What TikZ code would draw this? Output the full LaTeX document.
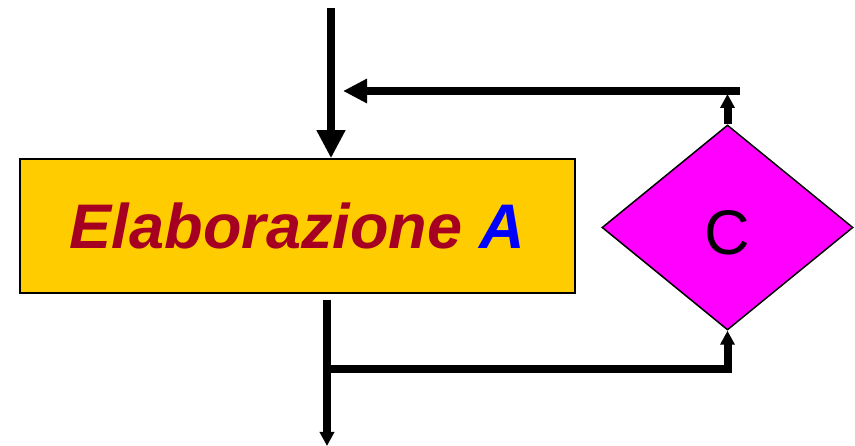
\documentclass[tikz,border=0pt]{standalone}
\usepackage{fontspec}
\setmainfont{Liberation Sans}
\usetikzlibrary{arrows.meta,shapes.geometric}
\definecolor{boxyellow}{HTML}{FFCC00}
\definecolor{textred}{HTML}{A50021}
\definecolor{textblue}{HTML}{0000FF}
\definecolor{decmag}{HTML}{FF00FF}
\tikzset{
  procbox/.style={draw=black, line width=1.5pt, fill=boxyellow, minimum width=555pt, minimum height=134pt, inner sep=0pt},
  decbox/.style={diamond, draw=black, line width=1.5pt, fill=decmag, minimum width=251pt, minimum height=205pt, inner sep=0pt, aspect=1.22},
  flow/.style={line width=8pt, draw=black},
  bigtip/.style={-{Triangle[width=27pt,length=28pt]}},
  midtip/.style={-{Triangle[width=23pt,length=24pt]}},
  smalltip/.style={-{Triangle[width=14pt,length=14pt]}}
}
\begin{document}
\begin{tikzpicture}[x=1pt,y=-1pt]
\useasboundingbox (0,0) rectangle (855,446);
\node[procbox] (box) at (297.5,226) {\fontsize{63}{63}\selectfont\bfseries\itshape\color{textred}Elaborazione \color{textblue}A};
\node[decbox] (dec) at (727.5,227.5) {\fontsize{63}{63}\selectfont\makebox[0pt]{\raisebox{-27pt}[0pt][0pt]{C}}};
\coordinate (in) at (331,8);
\coordinate (outtop) at (327,300);
\coordinate (out) at (327,446);
\coordinate (j) at (327,369.5);
\coordinate (rt) at (740,91);
\coordinate (lt) at (343,91);
\coordinate (up) at (727.5,94);
\draw[flow,bigtip] (in) -- (in |- box.north);
\draw[flow,smalltip] (outtop) -- (out);
\draw[flow,smalltip] (j) -- (j -| dec.south) -- (dec.south);
\draw[flow,smalltip] (dec.north) -- (up);
\draw[flow,midtip] (rt) -- (lt);
\end{tikzpicture}
\end{document}
